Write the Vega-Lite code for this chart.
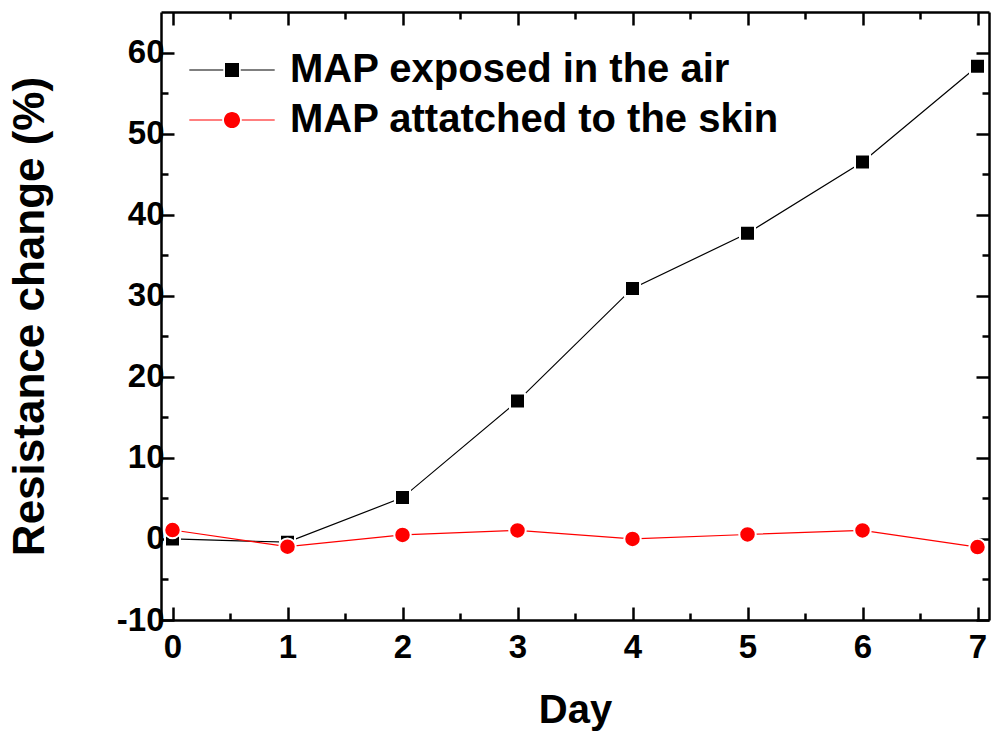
{
  "$schema": "https://vega.github.io/schema/vega-lite/v6.json",
  "width": 828,
  "height": 608,
  "autosize": {"type": "none"},
  "padding": {"left": 161, "top": 12, "right": 5, "bottom": 122},
  "background": "white",
  "config": {
    "view": {"stroke": null},
    "font": "Liberation Sans",
    "axis": {
      "labelFont": "Liberation Sans",
      "labelFontWeight": "bold",
      "labelFontSize": 33,
      "labelColor": "black",
      "titleFont": "Liberation Sans",
      "titleFontWeight": "bold",
      "titleColor": "black",
      "domainColor": "black",
      "domainWidth": 2.5,
      "tickColor": "black",
      "tickWidth": 2.5,
      "grid": false
    }
  },
  "data": {
    "values": [
      {"day": 0, "value": 0.0, "series": "MAP exposed in the air"},
      {"day": 1, "value": -0.4, "series": "MAP exposed in the air"},
      {"day": 2, "value": 5.1, "series": "MAP exposed in the air"},
      {"day": 3, "value": 17.0, "series": "MAP exposed in the air"},
      {"day": 4, "value": 30.9, "series": "MAP exposed in the air"},
      {"day": 5, "value": 37.7, "series": "MAP exposed in the air"},
      {"day": 6, "value": 46.5, "series": "MAP exposed in the air"},
      {"day": 7, "value": 58.3, "series": "MAP exposed in the air"},
      {"day": 0, "value": 1.1, "series": "MAP attatched to the skin"},
      {"day": 1, "value": -0.95, "series": "MAP attatched to the skin"},
      {"day": 2, "value": 0.5, "series": "MAP attatched to the skin"},
      {"day": 3, "value": 1.05, "series": "MAP attatched to the skin"},
      {"day": 4, "value": 0.0, "series": "MAP attatched to the skin"},
      {"day": 5, "value": 0.55, "series": "MAP attatched to the skin"},
      {"day": 6, "value": 1.05, "series": "MAP attatched to the skin"},
      {"day": 7, "value": -1.0, "series": "MAP attatched to the skin"}
    ]
  },
  "resolve": {
    "scale": {"x": "shared", "y": "shared"},
    "axis": {"x": "independent", "y": "independent"}
  },
  "layer": [
    {
      "transform": [{"filter": "datum.series === 'MAP exposed in the air'"}],
      "mark": {"type": "line", "color": "black", "strokeWidth": 1.2},
      "encoding": {
        "x": {
          "field": "day", "type": "quantitative",
          "scale": {"domain": [-0.1, 7.1], "nice": false, "zero": false},
          "axis": {
            "orient": "bottom", "values": [0, 1, 2, 3, 4, 5, 6, 7], "labelExpr": "'' + datum.value",
            "tickSize": -13, "labelPadding": 24, "labelFlush": false,
            "title": "Day", "titleFontSize": 40, "titlePadding": 26
          }
        },
        "y": {
          "field": "value", "type": "quantitative",
          "scale": {"domain": [-10, 65], "nice": false, "zero": false},
          "axis": {
            "orient": "left", "values": [-10, 0, 10, 20, 30, 40, 50, 60], "labelExpr": "'' + datum.value",
            "tickSize": -13, "labelPadding": 10, "labelFlush": false,
            "title": "Resistance change (%)", "titleFontSize": 44, "titlePadding": 64
          }
        }
      }
    },
    {
      "transform": [{"filter": "datum.series === 'MAP attatched to the skin'"}],
      "mark": {"type": "line", "color": "red", "strokeWidth": 1.2},
      "encoding": {
        "x": {
          "field": "day", "type": "quantitative",
          "axis": {
            "orient": "bottom", "values": [0.5, 1.5, 2.5, 3.5, 4.5, 5.5, 6.5],
            "tickSize": -7, "labels": false, "domain": false, "title": null
          }
        },
        "y": {
          "field": "value", "type": "quantitative",
          "axis": {
            "orient": "left", "values": [-5, 5, 15, 25, 35, 45, 55],
            "tickSize": -7, "labels": false, "domain": false, "title": null
          }
        }
      }
    },
    {
      "transform": [{"filter": "datum.series === 'MAP exposed in the air'"}],
      "mark": {"type": "point", "shape": "square", "filled": true, "color": "black", "size": 225, "stroke": "white", "strokeWidth": 2, "opacity": 1},
      "encoding": {
        "x": {
          "field": "day", "type": "quantitative",
          "axis": {
            "orient": "top", "values": [0, 1, 2, 3, 4, 5, 6, 7],
            "tickSize": -13, "labels": false, "title": null
          }
        },
        "y": {
          "field": "value", "type": "quantitative",
          "axis": {
            "orient": "right", "values": [-10, 0, 10, 20, 30, 40, 50, 60],
            "tickSize": -13, "labels": false, "title": null
          }
        }
      }
    },
    {
      "transform": [{"filter": "datum.series === 'MAP attatched to the skin'"}],
      "mark": {"type": "point", "shape": "circle", "filled": true, "color": "red", "size": 272, "stroke": "white", "strokeWidth": 2, "opacity": 1},
      "encoding": {
        "x": {
          "field": "day", "type": "quantitative",
          "axis": {
            "orient": "top", "values": [0.5, 1.5, 2.5, 3.5, 4.5, 5.5, 6.5],
            "tickSize": -7, "labels": false, "domain": false, "title": null
          }
        },
        "y": {
          "field": "value", "type": "quantitative",
          "axis": {
            "orient": "right", "values": [-5, 5, 15, 25, 35, 45, 55],
            "tickSize": -7, "labels": false, "domain": false, "title": null
          }
        }
      }
    },
    {
      "transform": [{"filter": "datum.day > 100"}],
      "mark": {"type": "point", "filled": true, "size": 196, "opacity": 1},
      "encoding": {
        "x": {"field": "day", "type": "quantitative", "axis": null},
        "y": {"field": "value", "type": "quantitative", "axis": null},
        "color": {
          "field": "series", "type": "nominal",
          "scale": {"domain": ["MAP exposed in the air", "MAP attatched to the skin"], "range": ["black", "red"]},
          "legend": {
            "orient": "none", "legendX": 51, "legendY": 38,
            "title": null, "padding": 0,
            "labelFont": "Liberation Sans", "labelFontWeight": "bold", "labelFontSize": 40,
            "labelColor": "black", "labelLimit": 0, "labelOffset": 38,
            "symbolOpacity": 1, "symbolStrokeWidth": 0, "symbolSize": 196,
            "rowPadding": 10
          }
        },
        "shape": {
          "field": "series", "type": "nominal",
          "scale": {
            "domain": ["MAP exposed in the air", "MAP attatched to the skin"],
            "range": [
              "M-6.1,-0.08H-1.25V0.08H-6.1Z M1.25,-0.08H6.1V0.08H1.25Z M-1,-1H1V1H-1Z",
              "M-6.1,-0.08H-1.4V0.08H-6.1Z M1.4,-0.08H6.1V0.08H1.4Z M1.15,0A1.15,1.15 0 1,1 -1.15,0A1.15,1.15 0 1,1 1.15,0Z"
            ]
          }
        }
      }
    }
  ]
}
